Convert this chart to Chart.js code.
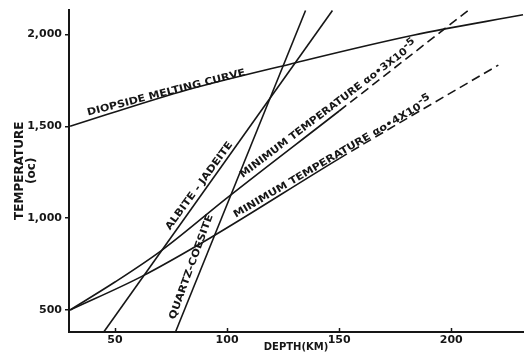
<!DOCTYPE html>
<html>
<head>
<meta charset="utf-8">
<script src="https://cdn.jsdelivr.net/npm/chart.js@4.4.0/dist/chart.umd.min.js"></script>
<style>
  html, body { margin: 0; padding: 0; background: #fff; }
</style>
</head>
<body>
<canvas id="chart" width="524" height="354"></canvas>
<script>
(function(){
  'use strict';

  // Depth (km) vs temperature (°C)
  const xTicks = [50, 100, 150, 200];
  const yTicks = [500, 1000, 1500, 2000];

  const diopsideDepth = [30, 79, 128, 183, 232];
  const diopsideTemp  = [1500, 1687, 1838, 1995, 2107];

  const albiteDepth = [45, 147];
  const albiteTemp  = [380, 2130];

  const quartzDepth = [77, 135];
  const quartzTemp  = [380, 2130];

  const min3Depth = [30, 50, 71, 100, 150, 208];
  const min3Temp  = [500, 652, 826, 1110, 1583, 2135];

  const min4Depth = [30, 62, 93, 150, 221];
  const min4Temp  = [500, 683, 896, 1324, 1833];

  const dashFrom = 150; // extrapolated part drawn dashed

  // Text placed along the curves (start/end of baseline, in data units)
  const curveLabels = [
    { text: 'DIOPSIDE MELTING CURVE', from: [38, 1558], to: [108.4, 1779] },
    { text: 'ALBITE - JADEITE', from: [74.5, 932], to: [102.6, 1401] },
    { text: 'QUARTZ-COESITE', from: [76.7, 446], to: [93.7, 1013] },
    { text: 'MINIMUM TEMPERATURE \u03b1o\u20223X10', sup: '-5', from: [107, 1218], to: [185, 1941] },
    { text: 'MINIMUM TEMPERATURE \u03b1o\u20224X10', sup: '-5', from: [103.9, 1002], to: [191.7, 1633] }
  ];

  const INK = '#161616';
  const FONT = '"DejaVu Sans", "Liberation Sans", sans-serif';

  function pts(xs, ys) {
    return xs.map((v, i) => ({ x: v, y: ys[i] }));
  }

  function curve(xs, ys, smooth, dashed) {
    const ds = {
      data: pts(xs, ys),
      showLine: true,
      borderColor: INK,
      borderWidth: 1.6,
      pointRadius: 0,
      fill: false,
      clip: false
    };
    if (smooth) ds.cubicInterpolationMode = 'monotone';
    if (dashed) {
      ds.segment = {
        borderDash: c => (c.p0.parsed.x >= dashFrom ? [9, 5] : undefined)
      };
    }
    return ds;
  }

  const labelPlugin = {
    id: 'curveLabels',
    afterDatasetsDraw(chart) {
      const { ctx } = chart;
      const x = chart.scales.x, y = chart.scales.y;
      ctx.save();
      ctx.fillStyle = INK;
      ctx.textBaseline = 'alphabetic';
      ctx.textAlign = 'left';
      ctx.font = 'bold 10px ' + FONT;
      curveLabels.forEach(l => {
        const x0 = x.getPixelForValue(l.from[0]), y0 = y.getPixelForValue(l.from[1]);
        const x1 = x.getPixelForValue(l.to[0]), y1 = y.getPixelForValue(l.to[1]);
        const len = Math.hypot(x1 - x0, y1 - y0);
        const ang = Math.atan2(y1 - y0, x1 - x0);
        const wMain = ctx.measureText(l.text).width;
        const wSup = l.sup ? ctx.measureText(l.sup).width : 0;
        const sx = len / (wMain + wSup);
        ctx.save();
        ctx.translate(x0, y0);
        ctx.rotate(ang);
        ctx.scale(sx, 1);
        ctx.fillText(l.text, 0, 0);
        if (l.sup) ctx.fillText(l.sup, wMain, -4);
        ctx.restore();
      });
      ctx.restore();
    },
    afterDraw(chart) {
      // small tick marks on the inside of the depth axis
      const { ctx, chartArea } = chart;
      const x = chart.scales.x;
      ctx.save();
      ctx.strokeStyle = INK;
      ctx.lineWidth = 1.5;
      xTicks.forEach(v => {
        const px = Math.round(x.getPixelForValue(v)) + 0.5;
        ctx.beginPath();
        ctx.moveTo(px, chartArea.bottom);
        ctx.lineTo(px, chartArea.bottom - 4);
        ctx.stroke();
      });
      ctx.restore();
    }
  };

  const el = document.getElementById('chart');
  new Chart(el.getContext('2d'), {
    type: 'scatter',
    data: {
      datasets: [
        curve(diopsideDepth, diopsideTemp, true, false),
        curve(albiteDepth, albiteTemp, false, false),
        curve(quartzDepth, quartzTemp, false, false),
        curve(min3Depth, min3Temp, true, true),
        curve(min4Depth, min4Temp, true, true)
      ]
    },
    options: {
      responsive: false,
      animation: false,
      devicePixelRatio: 1,
      layout: { padding: { top: 8, right: 1, left: 0, bottom: 0 } },
      plugins: {
        legend: { display: false },
        tooltip: { enabled: false }
      },
      scales: {
        x: {
          type: 'linear',
          min: 29.5,
          max: 232,
          afterBuildTicks: s => { s.ticks = xTicks.map(v => ({ value: v })); },
          afterFit: s => { s.height = 22; },
          ticks: {
            color: INK,
            font: { family: FONT, size: 11, weight: 'bold' },
            padding: 2,
            maxRotation: 0,
            autoSkip: false
          },
          grid: { drawOnChartArea: false, drawTicks: false },
          border: { color: INK, width: 2 },
          title: {
            display: true,
            text: 'DEPTH(KM)',
            color: INK,
            font: { family: FONT, size: 10, weight: 'bold', lineHeight: 1.2 },
            padding: { top: 0, bottom: 1 }
          }
        },
        y: {
          type: 'linear',
          min: 380,
          max: 2135,
          afterBuildTicks: s => { s.ticks = yTicks.map(v => ({ value: v })); },
          afterFit: s => { s.width = 69; },
          ticks: {
            color: INK,
            font: { family: FONT, size: 11, weight: 'bold' },
            padding: 3,
            callback: v => v.toLocaleString('en-US')
          },
          grid: { drawOnChartArea: false, tickLength: 4, color: INK, lineWidth: 1.5 },
          border: { color: INK, width: 2 },
          title: {
            display: true,
            text: ['TEMPERATURE', '(oc)'],
            color: INK,
            font: { family: FONT, size: 12, weight: 'bold', lineHeight: 1.0 },
            padding: { top: 14, bottom: 0 }
          }
        }
      }
    },
    plugins: [labelPlugin]
  });
})();
</script>
</body>
</html>
